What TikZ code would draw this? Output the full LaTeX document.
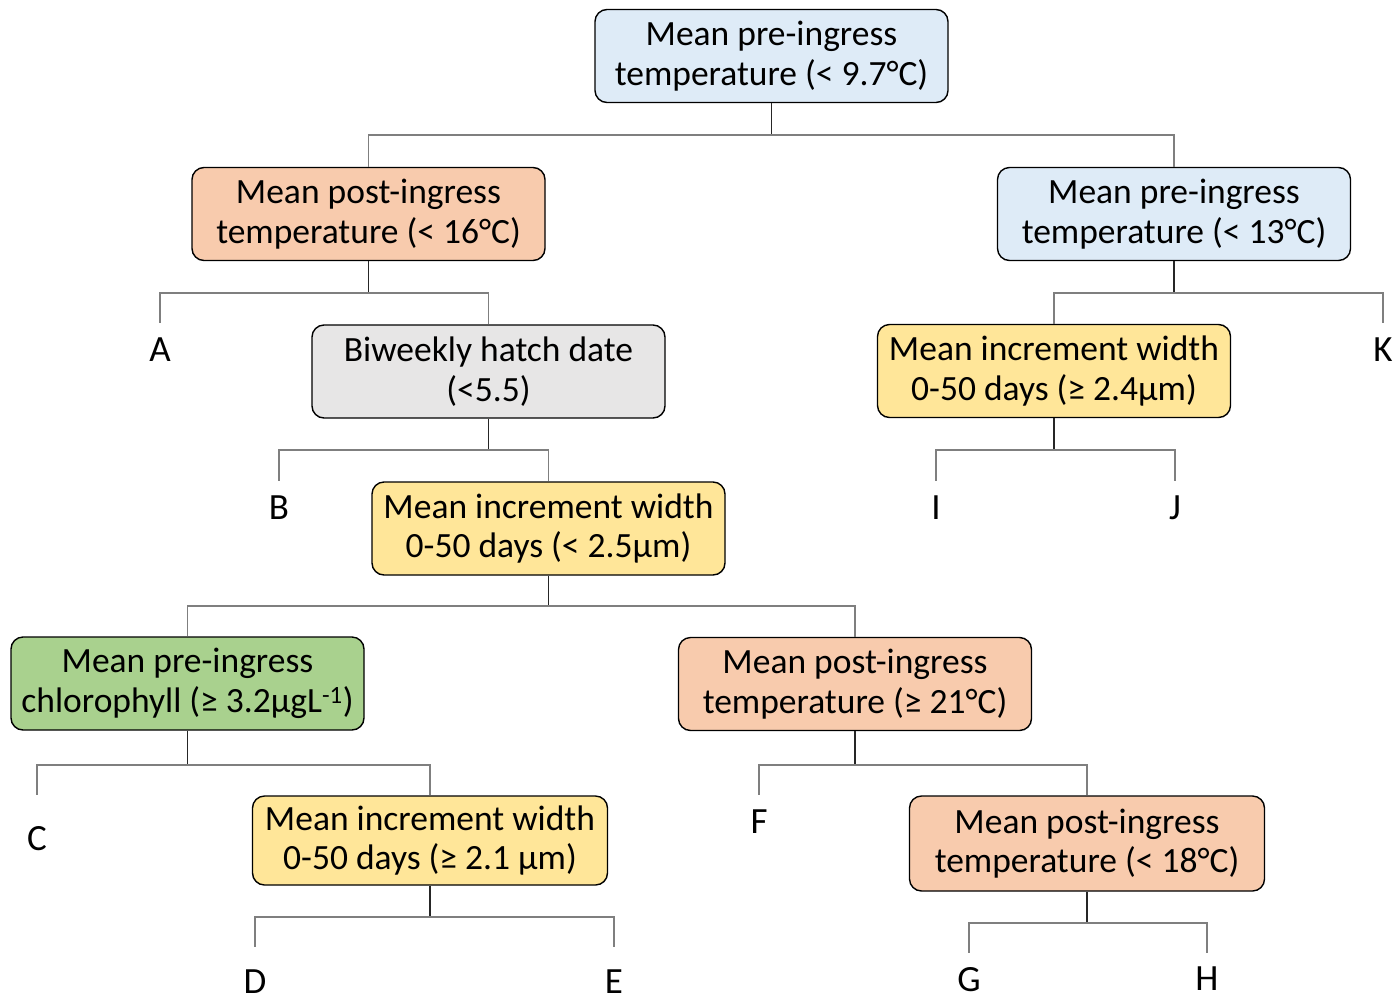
\documentclass[tikz,border=0pt]{standalone}
\usepackage{fontspec}
\setmainfont{Carlito}
\definecolor{cblue}{HTML}{DEEBF7}
\definecolor{corange}{HTML}{F8CBAD}
\definecolor{cgrey}{HTML}{E7E6E6}
\definecolor{cyellow}{HTML}{FFE699}
\definecolor{cgreen}{HTML}{A9D18E}
\definecolor{lgrey}{HTML}{7F7F7F}
\begin{document}
\begin{tikzpicture}[x=1pt,y=-1pt,
  box/.style={draw=black,line width=1.4pt,rounded corners=12pt,align=center,
    minimum width=353pt,minimum height=93pt,inner sep=0pt,
    font=\fontsize{35.5}{39.5}\selectfont},
  leaf/.style={inner sep=0pt,anchor=north,font=\fontsize{37}{40}\selectfont},
  stem/.style={draw=black!85,line width=1.3pt},
  branch/.style={draw=lgrey,line width=1.5pt}]
\useasboundingbox (0,0) rectangle (1399,1007);
% boxes
\node[box,fill=cblue] (n1) at (771.5,56) {Mean pre-ingress\\temperature (< 9.7°C)};
\node[box,fill=corange] (n2) at (368.5,214) {Mean post-ingress\\temperature (< 16°C)};
\node[box,fill=cblue] (n3) at (1174,214) {Mean pre-ingress\\temperature (< 13°C)};
\node[box,fill=cgrey] (n4) at (488.5,371.5) {Biweekly hatch date\\(<5.5)};
\node[box,fill=cyellow] (n5) at (1054,371) {Mean increment width\\0-50 days (≥ 2.4µm)};
\node[box,fill=cyellow] (n6) at (548.5,528.5) {Mean increment width\\0-50 days (< 2.5µm)};
\node[box,fill=cgreen] (n7) at (187.5,683.5) {Mean pre-ingress\\chlorophyll (≥ 3.2µgL\textsuperscript{-1})};
\node[box,fill=corange] (n8) at (855,684) {Mean post-ingress\\temperature (≥ 21°C)};
\node[box,fill=cyellow,minimum width=355pt,minimum height=89pt] (n9) at (430,840.5) {Mean increment width\\0-50 days (≥ 2.1 µm)};
\node[box,fill=corange,minimum width=355pt,minimum height=95pt] (n10) at (1087,843.5) {Mean post-ingress\\temperature (< 18°C)};
% leaves
\node[leaf] (A) at (160,338) {A};
\node[leaf] (K) at (1383,338) {K};
\node[leaf] (B) at (279,496) {B};
\node[leaf] (I) at (936,496) {I};
\node[leaf] (J) at (1175,496) {J};
\node[leaf] (C) at (37,826) {C};
\node[leaf] (F) at (759,810) {F};
\node[leaf] (D) at (255,970) {D};
\node[leaf] (E) at (614,970) {E};
\node[leaf] (G) at (969,967) {G};
\node[leaf] (H) at (1207,967) {H};
% junctions
\coordinate (j1) at (n1.south |- 0,135);
\coordinate (j2) at (n2.south |- 0,293);
\coordinate (j3) at (n3.south |- 0,293);
\coordinate (j4) at (n4.south |- 0,450);
\coordinate (j5) at (n5.south |- 0,450);
\coordinate (j6) at (n6.south |- 0,606);
\coordinate (j7) at (n7.south |- 0,765);
\coordinate (j8) at (n8.south |- 0,765);
\coordinate (j9) at (n9.south |- 0,917);
\coordinate (j10) at (n10.south |- 0,923);
% connectors
\draw[stem] (n1.south) -- (j1);
\draw[branch] (n2.north) |- (j1) -| (n3.north);
\draw[stem] (n2.south) -- (j2);
\draw[branch,shorten >=15pt] (j2) -| (A.north);
\draw[branch] (j2) -| (n4.north);
\draw[stem] (n3.south) -- (j3);
\draw[branch] (j3) -| (n5.north);
\draw[branch,shorten >=15pt] (j3) -| (K.north);
\draw[stem] (n4.south) -- (j4);
\draw[branch,shorten >=15pt] (j4) -| (B.north);
\draw[branch] (j4) -| (n6.north);
\draw[stem] (n5.south) -- (j5);
\draw[branch,shorten >=15pt] (j5) -| (I.north);
\draw[branch,shorten >=15pt] (j5) -| (J.north);
\draw[stem] (n6.south) -- (j6);
\draw[branch] (j6) -| (n7.north);
\draw[branch] (j6) -| (n8.north);
\draw[stem] (n7.south) -- (j7);
\draw[branch,shorten >=31pt] (j7) -| (C.north);
\draw[branch] (j7) -| (n9.north);
\draw[stem] (n8.south) -- (j8);
\draw[branch,shorten >=15pt] (j8) -| (F.north);
\draw[branch] (j8) -| (n10.north);
\draw[stem] (n9.south) -- (j9);
\draw[branch,shorten >=23pt] (j9) -| (D.north);
\draw[branch,shorten >=23pt] (j9) -| (E.north);
\draw[stem] (n10.south) -- (j10);
\draw[branch,shorten >=14pt] (j10) -| (G.north);
\draw[branch,shorten >=14pt] (j10) -| (H.north);
\end{tikzpicture}
\end{document}
